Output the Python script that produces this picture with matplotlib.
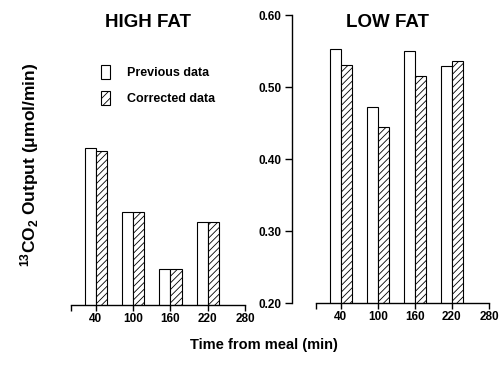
import numpy as np
import matplotlib
matplotlib.use("Agg")
import matplotlib.pyplot as plt
from matplotlib.patches import Patch

plt.rcParams['font.family'] = ['Liberation Sans', 'DejaVu Sans']
plt.rcParams['font.weight'] = 'bold'
plt.rcParams['mathtext.default'] = 'regular'
plt.rcParams['hatch.linewidth'] = 0.6

# Data
times = [40, 100, 160, 220]
high_prev = [0.417, 0.328, 0.249, 0.314]
high_corr = [0.412, 0.328, 0.249, 0.314]
low_prev = [0.553, 0.472, 0.550, 0.529]
low_corr = [0.530, 0.445, 0.515, 0.536]
xticks = [0, 40, 100, 160, 220, 280]
xlabels = ['', '40', '100', '160', '220', '280']
yticks = [0.20, 0.30, 0.40, 0.50, 0.60]

W, H = 502, 367
fig = plt.figure(figsize=(W / 100, H / 100), dpi=100)

bar_w = 18


def px_axes(x0, x1, ytop, ybot):
    return fig.add_axes([x0 / W, 1 - ybot / H, (x1 - x0) / W, (ybot - ytop) / H])


def draw_panel(ax, prev, corr, title, title_x):
    t = np.array(times)
    ax.bar(t - bar_w, prev, width=bar_w, align='edge', bottom=0,
           color='white', edgecolor='black', linewidth=0.8)
    ax.bar(t, corr, width=bar_w, align='edge', bottom=0,
           color='white', edgecolor='black', linewidth=0.8, hatch='/////')
    ax.set_xlim(0, 280)
    ax.set_ylim(0.2, 0.6)
    ax.set_xticks(xticks)
    ax.set_xticklabels(xlabels)
    ax.tick_params(axis='x', direction='out', length=4, width=1, labelsize=8.5, pad=2)
    for s in ['top', 'right']:
        ax.spines[s].set_visible(False)
    ax.spines['bottom'].set_linewidth(1)
    ax.set_title(title, fontsize=13.5, fontweight='bold', pad=0, x=title_x, y=0.96)


ax1 = px_axes(71, 245, 15, 305)
draw_panel(ax1, high_prev, high_corr, 'HIGH FAT', 0.44)
ax1.spines['left'].set_visible(False)
ax1.set_yticks([])

ax2 = px_axes(316, 489, 15, 303)
draw_panel(ax2, low_prev, low_corr, 'LOW FAT', 0.415)
ax2.spines['left'].set_position(('outward', 23.5 * 72 / 100))
ax2.spines['left'].set_linewidth(1)
ax2.set_yticks(yticks)
ax2.set_yticklabels(['%.2f' % v for v in yticks])
ax2.tick_params(axis='y', direction='out', length=5, width=1, labelsize=8.5, pad=3)

handles = [Patch(facecolor='white', edgecolor='black', linewidth=0.8),
           Patch(facecolor='white', edgecolor='black', linewidth=0.8, hatch='////')]
fig.legend(handles, ['Previous data', 'Corrected data'], loc='upper left',
           bbox_to_anchor=(101 / W, 1 - 65 / H), frameon=False, fontsize=9,
           handlelength=0.7, handleheight=1.3, handletextpad=1.4, labelspacing=0.95,
           borderpad=0, borderaxespad=0)

fig.text(30 / W, 1 - 165 / H, '$^{13}$CO$_{2}$ Output (μmol/min)', rotation=90,
         ha='center', va='center', fontsize=12.5, fontweight='bold')
fig.text(264 / W, 1 - 345 / H, 'Time from meal (min)', ha='center', va='center',
         fontsize=10.5, fontweight='bold')

fig.savefig('out.png', dpi=100)
